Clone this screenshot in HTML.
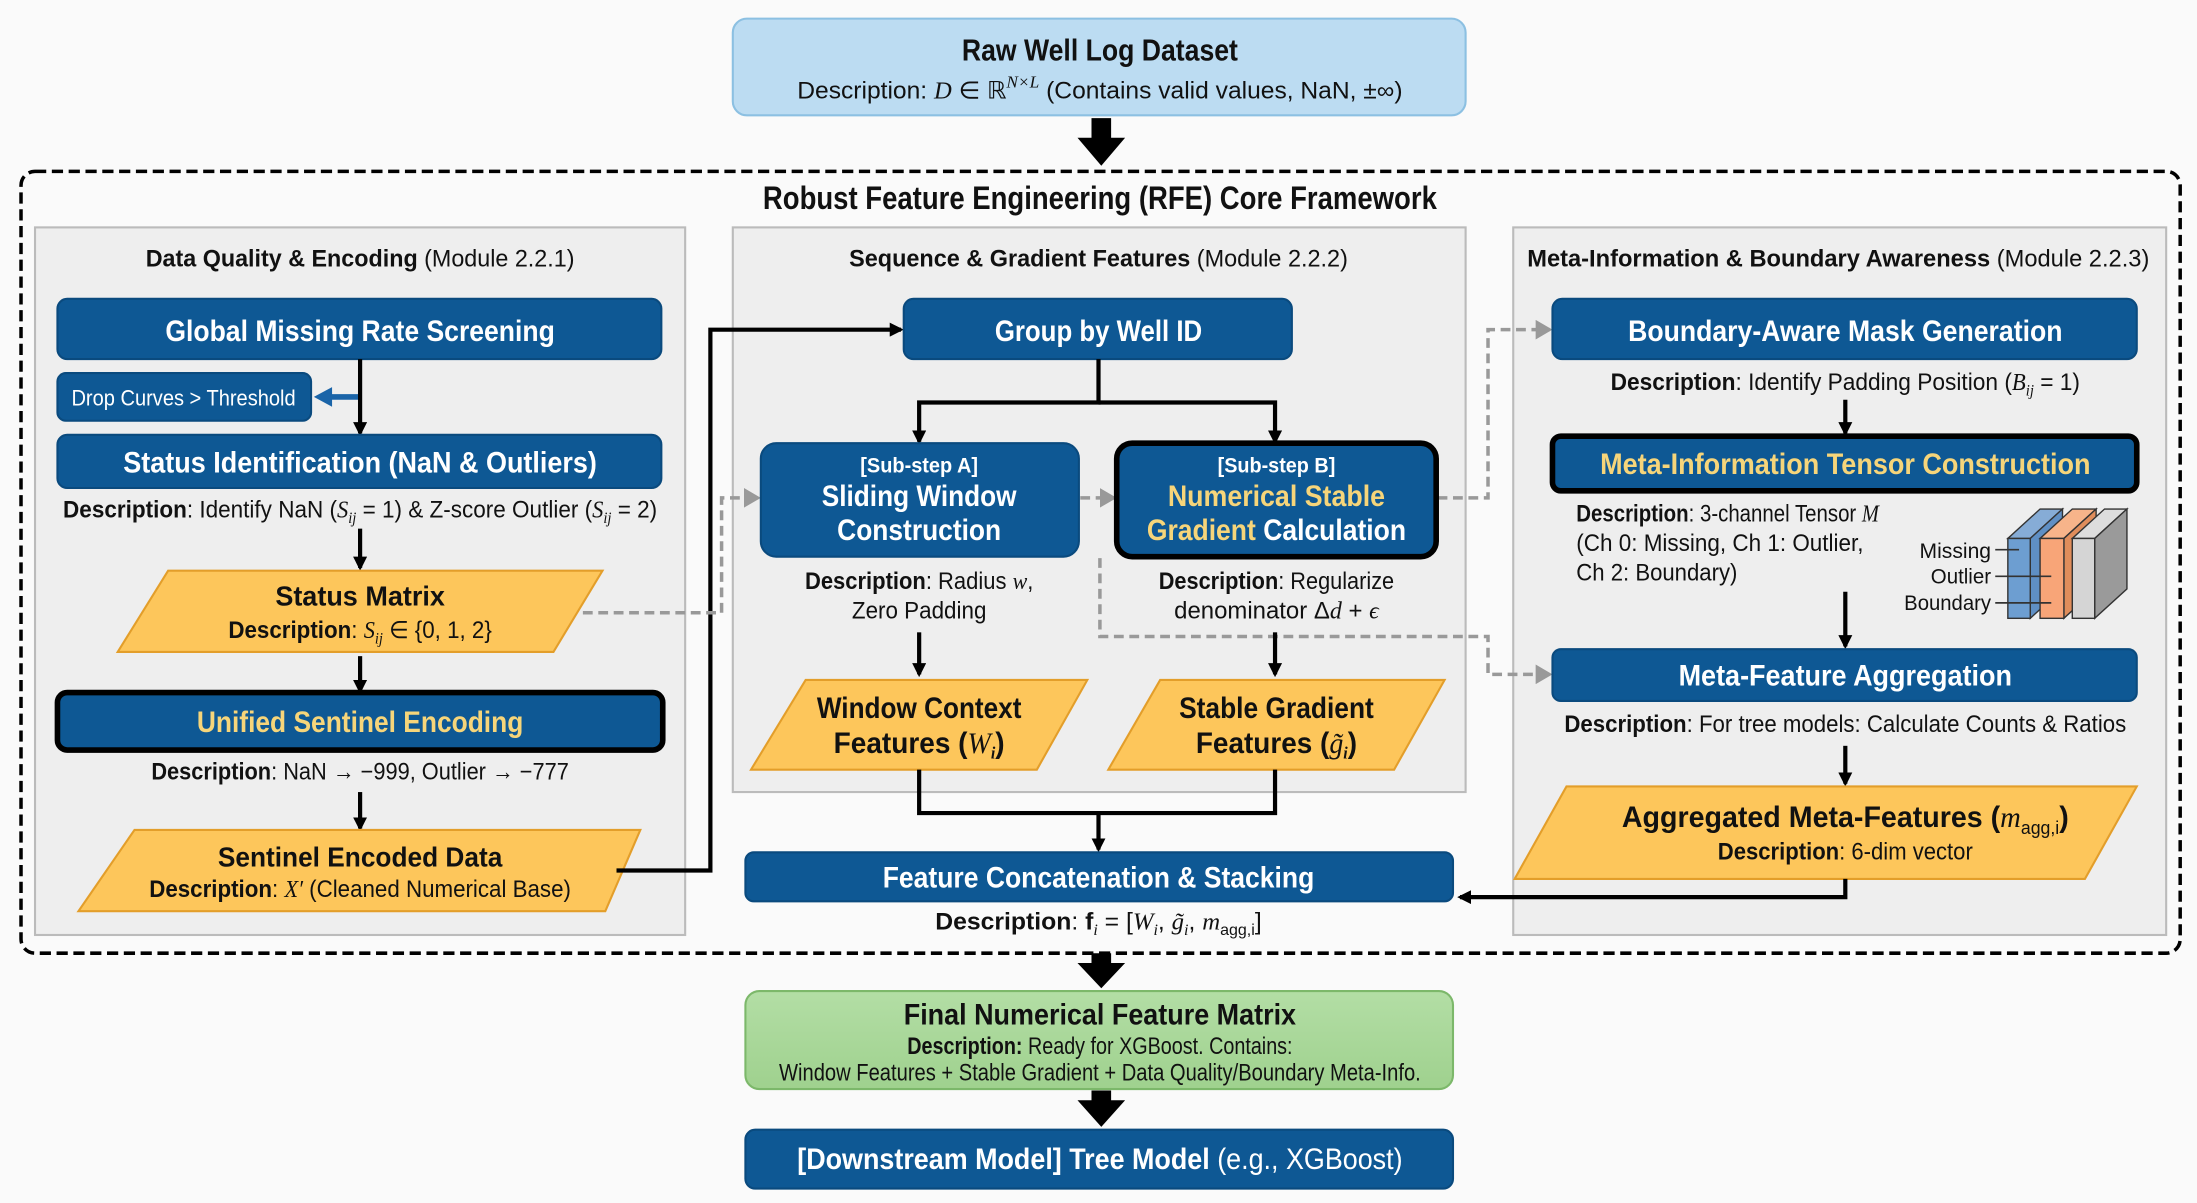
<!DOCTYPE html>
<html><head><meta charset="utf-8"><style>
html,body{margin:0;padding:0;background:#fafafa;}
svg{display:block;}
text{font-family:"Liberation Sans Narrow","Liberation Sans",sans-serif;}
.t{font-weight:bold;fill:#fff;font-size:21px;text-anchor:middle;}
.y{font-weight:bold;fill:#f6d57a;font-size:21px;text-anchor:middle;}
.k{font-weight:bold;fill:#111;text-anchor:middle;}
.d{fill:#111;font-size:17px;text-anchor:middle;}
.b{font-weight:bold;}
.i{font-family:"Liberation Serif",serif;font-style:italic;}
.blue{fill:#0e5894;stroke:#0a4a7e;stroke-width:1.5;}
.pg{fill:#fdc65b;stroke:#e39e2a;stroke-width:1.5;}
.ln{stroke:#000;stroke-width:3;fill:none;}
.gd{stroke:#999;stroke-width:2.5;fill:none;stroke-dasharray:7,4;}
</style></head><body>
<svg width="2197" height="1203" viewBox="0 0 1568 858" xmlns="http://www.w3.org/2000/svg">
<defs>
<marker id="ah" markerWidth="10" markerHeight="10" refX="8" refY="5" orient="auto" markerUnits="userSpaceOnUse"><path d="M0,0 L10,5 L0,10 z" fill="#000"/></marker>
<marker id="gh" markerWidth="12" markerHeight="14" refX="10" refY="7" orient="auto" markerUnits="userSpaceOnUse"><path d="M0,0 L12,7 L0,14 z" fill="#999"/></marker>
<linearGradient id="gg" x1="0" y1="0" x2="0" y2="1"><stop offset="0" stop-color="#b3dea5"/><stop offset="1" stop-color="#9fd18e"/></linearGradient>
</defs>
<rect width="1568" height="858" fill="#fafafa"/>

<!-- Raw -->
<rect x="523" y="13" width="523" height="69" rx="10" fill="#bcdcf2" stroke="#8cc0e2" stroke-width="1.5"/>
<text x="785" y="43" class="k" font-size="22" textLength="197" lengthAdjust="spacingAndGlyphs">Raw Well Log Dataset</text>
<text x="785" y="70" class="d" font-size="19" textLength="432" lengthAdjust="spacingAndGlyphs">Description: <tspan class="i">D</tspan> ∈ ℝ<tspan font-size="12" dy="-8" class="i">N×L</tspan><tspan dy="8"> (Contains valid values, NaN, ±∞)</tspan></text>

<!-- big arrows -->
<path d="M779,84 h14 v14 h10 l-17,20 l-17,-20 h10 z" fill="#000"/>
<path d="M779,680 h14 v7 h10 l-17,18 l-17,-18 h10 z" fill="#000"/>
<path d="M779,778 h14 v7 h10 l-17,19 l-17,-19 h10 z" fill="#000"/>

<!-- dashed frame -->
<rect x="15" y="122" width="1541" height="558" rx="10" fill="none" stroke="#000" stroke-width="2.5" stroke-dasharray="8,4"/>
<text x="785" y="149" class="k" font-size="23" textLength="481" lengthAdjust="spacingAndGlyphs">Robust Feature Engineering (RFE) Core Framework</text>

<!-- panels -->
<rect x="25" y="162" width="464" height="505" fill="#eeeeee" stroke="#bbb" stroke-width="1.5"/>
<rect x="523" y="162" width="523" height="403" fill="#eeeeee" stroke="#bbb" stroke-width="1.5"/>
<rect x="1080" y="162" width="466" height="505" fill="#eeeeee" stroke="#bbb" stroke-width="1.5"/>
<text x="257" y="190" class="d" font-size="18" textLength="306" lengthAdjust="spacingAndGlyphs"><tspan class="b">Data Quality &amp; Encoding</tspan> (Module 2.2.1)</text>
<text x="784" y="190" class="d" font-size="18" textLength="356" lengthAdjust="spacingAndGlyphs"><tspan class="b">Sequence &amp; Gradient Features</tspan> (Module 2.2.2)</text>
<text x="1312" y="190" class="d" font-size="18" textLength="444" lengthAdjust="spacingAndGlyphs"><tspan class="b">Meta-Information &amp; Boundary Awareness</tspan> (Module 2.2.3)</text>

<!-- LEFT -->
<rect x="41" y="213" width="431" height="43" rx="7" class="blue"/>
<text x="257" y="243" class="t" textLength="278" lengthAdjust="spacingAndGlyphs">Global Missing Rate Screening</text>
<rect x="41" y="266" width="181" height="34" rx="6" class="blue"/>
<text x="131" y="289" fill="#fff" font-size="16" text-anchor="middle" textLength="160" lengthAdjust="spacingAndGlyphs">Drop Curves &gt; Threshold</text>
<line x1="257" y1="283" x2="235" y2="283" stroke="#1a64a8" stroke-width="4"/>
<path d="M224,283 l13,-7 v14 z" fill="#1a64a8"/>
<line x1="257" y1="256" x2="257" y2="309" class="ln" marker-end="url(#ah)"/>
<rect x="41" y="310" width="431" height="38" rx="7" class="blue"/>
<text x="257" y="337" class="t" textLength="338" lengthAdjust="spacingAndGlyphs">Status Identification (NaN &amp; Outliers)</text>
<text x="257" y="369" class="d" textLength="424" lengthAdjust="spacingAndGlyphs"><tspan class="b">Description</tspan>: Identify NaN (<tspan class="i">S</tspan><tspan font-size="11" dy="4" class="i">ij</tspan><tspan dy="-4"> = 1) &amp; Z-score Outlier (</tspan><tspan class="i">S</tspan><tspan font-size="11" dy="4" class="i">ij</tspan><tspan dy="-4"> = 2)</tspan></text>
<line x1="257" y1="377" x2="257" y2="405" class="ln" marker-end="url(#ah)"/>
<polygon points="120,407 430,407 395,465 84,465" class="pg"/>
<text x="257" y="432" class="k" font-size="20" textLength="121" lengthAdjust="spacingAndGlyphs">Status Matrix</text>
<text x="257" y="455" class="d" textLength="188" lengthAdjust="spacingAndGlyphs"><tspan class="b">Description</tspan>: <tspan class="i">S</tspan><tspan font-size="11" dy="4" class="i">ij</tspan><tspan dy="-4"> ∈ {0, 1, 2}</tspan></text>
<line x1="257" y1="468" x2="257" y2="493" class="ln" marker-end="url(#ah)"/>
<rect x="41" y="494" width="432" height="41" rx="7" fill="#0e5894" stroke="#000" stroke-width="4"/>
<text x="257" y="522" class="y" textLength="233" lengthAdjust="spacingAndGlyphs">Unified Sentinel Encoding</text>
<text x="257" y="556" class="d" textLength="298" lengthAdjust="spacingAndGlyphs"><tspan class="b">Description</tspan>: NaN → −999, Outlier → −777</text>
<line x1="257" y1="565" x2="257" y2="591" class="ln" marker-end="url(#ah)"/>
<polygon points="96,592 457,592 432,650 56,650" class="pg"/>
<text x="257" y="618" class="k" font-size="20" textLength="203" lengthAdjust="spacingAndGlyphs">Sentinel Encoded Data</text>
<text x="257" y="640" class="d" textLength="301" lengthAdjust="spacingAndGlyphs"><tspan class="b">Description</tspan>: <tspan class="i">X′</tspan> (Cleaned Numerical Base)</text>
<polyline points="440,621 507,621 507,235 643,235" class="ln" marker-end="url(#ah)"/>

<!-- gray dashed -->
<polyline points="416,437 515,437 515,355 541,355" class="gd" marker-end="url(#gh)"/>
<polyline points="771,355 795,355" class="gd" marker-end="url(#gh)"/>
<polyline points="1026,355 1062,355 1062,235 1106,235" class="gd" marker-end="url(#gh)"/>
<polyline points="785,398 785,454 1062,454 1062,481 1106,481" class="gd" marker-end="url(#gh)"/>

<!-- MIDDLE -->
<rect x="645" y="213" width="277" height="43" rx="7" class="blue"/>
<text x="784" y="243" class="t" textLength="148" lengthAdjust="spacingAndGlyphs">Group by Well ID</text>
<polyline points="784,256 784,287 656,287 656,315" class="ln" marker-end="url(#ah)"/>
<polyline points="784,287 910,287 910,315" class="ln" marker-end="url(#ah)"/>
<rect x="543" y="316" width="227" height="81" rx="11" class="blue"/>
<text x="656" y="337" fill="#fff" font-size="15" text-anchor="middle" class="b" textLength="84" lengthAdjust="spacingAndGlyphs">[Sub-step A]</text>
<text x="656" y="361" class="t" textLength="139" lengthAdjust="spacingAndGlyphs">Sliding Window</text>
<text x="656" y="385" class="t" textLength="117" lengthAdjust="spacingAndGlyphs">Construction</text>
<rect x="797" y="316" width="228" height="81" rx="11" fill="#0e5894" stroke="#000" stroke-width="4"/>
<text x="911" y="337" fill="#fff" font-size="15" text-anchor="middle" class="b" textLength="84" lengthAdjust="spacingAndGlyphs">[Sub-step B]</text>
<text x="911" y="361" class="y" textLength="155" lengthAdjust="spacingAndGlyphs">Numerical Stable</text>
<text x="911" y="385" class="y" textLength="185" lengthAdjust="spacingAndGlyphs">Gradient <tspan fill="#fff">Calculation</tspan></text>
<text x="656" y="420" class="d" textLength="163" lengthAdjust="spacingAndGlyphs"><tspan class="b">Description</tspan>: Radius <tspan class="i">w</tspan>,</text>
<text x="656" y="441" class="d" textLength="96" lengthAdjust="spacingAndGlyphs">Zero Padding</text>
<text x="911" y="420" class="d" textLength="168" lengthAdjust="spacingAndGlyphs"><tspan class="b">Description</tspan>: Regularize</text>
<text x="911" y="441" class="d" textLength="146" lengthAdjust="spacingAndGlyphs">denominator Δ<tspan class="i">d</tspan> + <tspan class="i">ϵ</tspan></text>
<line x1="656" y1="451" x2="656" y2="481" class="ln" marker-end="url(#ah)"/>
<line x1="910" y1="451" x2="910" y2="481" class="ln" marker-end="url(#ah)"/>
<polygon points="575,485 776,485 740,549 536,549" class="pg"/>
<text x="656" y="512" class="k" font-size="21" textLength="146" lengthAdjust="spacingAndGlyphs">Window Context</text>
<text x="656" y="537" class="k" font-size="21" textLength="122" lengthAdjust="spacingAndGlyphs">Features (<tspan class="i" font-weight="normal">W</tspan><tspan font-size="12" dy="4" class="i">i</tspan><tspan dy="-4">)</tspan></text>
<polygon points="828,485 1031,485 995,549 791,549" class="pg"/>
<text x="911" y="512" class="k" font-size="21" textLength="139" lengthAdjust="spacingAndGlyphs">Stable Gradient</text>
<text x="911" y="537" class="k" font-size="21" textLength="115" lengthAdjust="spacingAndGlyphs">Features (<tspan class="i" font-weight="normal">g̃</tspan><tspan font-size="12" dy="4" class="i">i</tspan><tspan dy="-4">)</tspan></text>
<polyline points="656,549 656,580 910,580 910,549" class="ln"/>
<line x1="784" y1="580" x2="784" y2="606" class="ln" marker-end="url(#ah)"/>
<rect x="532" y="608" width="505" height="35" rx="6" class="blue"/>
<text x="784" y="633" class="t" textLength="308" lengthAdjust="spacingAndGlyphs">Feature Concatenation &amp; Stacking</text>
<text x="784" y="663" class="d" textLength="233" lengthAdjust="spacingAndGlyphs"><tspan class="b">Description</tspan>: <tspan class="b">f</tspan><tspan font-size="11" dy="4" class="i">i</tspan><tspan dy="-4"> = [</tspan><tspan class="i">W</tspan><tspan font-size="11" dy="4" class="i">i</tspan><tspan dy="-4">, </tspan><tspan class="i">g̃</tspan><tspan font-size="11" dy="4" class="i">i</tspan><tspan dy="-4">, </tspan><tspan class="i">m</tspan><tspan font-size="11" dy="4">agg,i</tspan><tspan dy="-4">]</tspan></text>

<!-- RIGHT -->
<rect x="1108" y="213" width="417" height="43" rx="7" class="blue"/>
<text x="1317" y="243" class="t" textLength="310" lengthAdjust="spacingAndGlyphs">Boundary-Aware Mask Generation</text>
<text x="1317" y="278" class="d" textLength="335" lengthAdjust="spacingAndGlyphs"><tspan class="b">Description</tspan>: Identify Padding Position (<tspan class="i">B</tspan><tspan font-size="11" dy="4" class="i">ij</tspan><tspan dy="-4"> = 1)</tspan></text>
<line x1="1317" y1="285" x2="1317" y2="309" class="ln" marker-end="url(#ah)"/>
<rect x="1108" y="311" width="417" height="39" rx="6" fill="#0e5894" stroke="#000" stroke-width="4"/>
<text x="1317" y="338" class="y" textLength="350" lengthAdjust="spacingAndGlyphs">Meta-Information Tensor Construction</text>
<text x="1125" y="372" fill="#111" font-size="17" textLength="216" lengthAdjust="spacingAndGlyphs"><tspan class="b">Description</tspan>: 3-channel Tensor <tspan class="i">M</tspan></text>
<text x="1125" y="393" fill="#111" font-size="17" textLength="205" lengthAdjust="spacingAndGlyphs">(Ch 0: Missing, Ch 1: Outlier,</text>
<text x="1125" y="414" fill="#111" font-size="17" textLength="115" lengthAdjust="spacingAndGlyphs">Ch 2: Boundary)</text>
<text x="1421" y="398" fill="#111" font-size="15" text-anchor="end" textLength="51" lengthAdjust="spacingAndGlyphs">Missing</text>
<text x="1421" y="416" fill="#111" font-size="15" text-anchor="end" textLength="43" lengthAdjust="spacingAndGlyphs">Outlier</text>
<text x="1421" y="435" fill="#111" font-size="15" text-anchor="end" textLength="62" lengthAdjust="spacingAndGlyphs">Boundary</text>
<!-- cubes -->
<g stroke="#333" stroke-width="1">
<polygon points="1433,384 1449,384 1472,363 1456,363" fill="#86acd6"/>
<polygon points="1449,384 1472,363 1472,420 1449,441" fill="#5f8fc4"/>
<rect x="1433" y="384" width="16" height="57" fill="#6d9ed1"/>
<polygon points="1456,384 1473,384 1496,363 1479,363" fill="#f7b48a"/>
<polygon points="1473,384 1496,363 1496,420 1473,441" fill="#e08d5b"/>
<rect x="1456" y="384" width="17" height="57" fill="#f8a578"/>
<polygon points="1479,384 1495,384 1518,363 1502,363" fill="#ddd"/>
<polygon points="1495,384 1518,363 1518,420 1495,441" fill="#9a9a9a"/>
<rect x="1479" y="384" width="16" height="57" fill="#d5d5d5"/>
</g>
<line x1="1424" y1="392" x2="1441" y2="392" stroke="#333" stroke-width="1.2"/>
<line x1="1424" y1="411" x2="1464" y2="411" stroke="#333" stroke-width="1.2"/>
<line x1="1424" y1="430" x2="1464" y2="430" stroke="#333" stroke-width="1.2"/>
<line x1="1317" y1="422" x2="1317" y2="461" class="ln" marker-end="url(#ah)"/>
<rect x="1108" y="463" width="417" height="37" rx="6" class="blue"/>
<text x="1317" y="489" class="t" textLength="238" lengthAdjust="spacingAndGlyphs">Meta-Feature Aggregation</text>
<text x="1317" y="522" class="d" textLength="401" lengthAdjust="spacingAndGlyphs"><tspan class="b">Description</tspan>: For tree models: Calculate Counts &amp; Ratios</text>
<line x1="1317" y1="532" x2="1317" y2="559" class="ln" marker-end="url(#ah)"/>
<polygon points="1118,561 1525,561 1488,627 1081,627" class="pg"/>
<text x="1317" y="590" class="k" font-size="21" textLength="319" lengthAdjust="spacingAndGlyphs">Aggregated Meta-Features (<tspan class="i" font-weight="normal">m</tspan><tspan font-size="13" dy="5" font-weight="normal">agg,i</tspan><tspan dy="-5">)</tspan></text>
<text x="1317" y="613" class="d" textLength="182" lengthAdjust="spacingAndGlyphs"><tspan class="b">Description</tspan>: 6-dim vector</text>
<polyline points="1317,627 1317,640 1042,640" class="ln" marker-end="url(#ah)"/>

<!-- bottom -->
<rect x="532" y="707" width="505" height="70" rx="10" fill="url(#gg)" stroke="#7cb86a" stroke-width="1.5"/>
<text x="785" y="731" class="k" font-size="21" textLength="280" lengthAdjust="spacingAndGlyphs">Final Numerical Feature Matrix</text>
<text x="785" y="752" class="d" font-size="16" textLength="275" lengthAdjust="spacingAndGlyphs"><tspan class="b">Description:</tspan> Ready for XGBoost. Contains:</text>
<text x="785" y="771" class="d" font-size="16" textLength="458" lengthAdjust="spacingAndGlyphs">Window Features + Stable Gradient + Data Quality/Boundary Meta-Info.</text>
<rect x="532" y="806" width="505" height="42" rx="7" class="blue"/>
<text x="785" y="834" fill="#fff" font-size="21" text-anchor="middle" textLength="432" lengthAdjust="spacingAndGlyphs"><tspan class="b">[Downstream Model] Tree Model</tspan> (e.g., XGBoost)</text>
</svg>
</body></html>
